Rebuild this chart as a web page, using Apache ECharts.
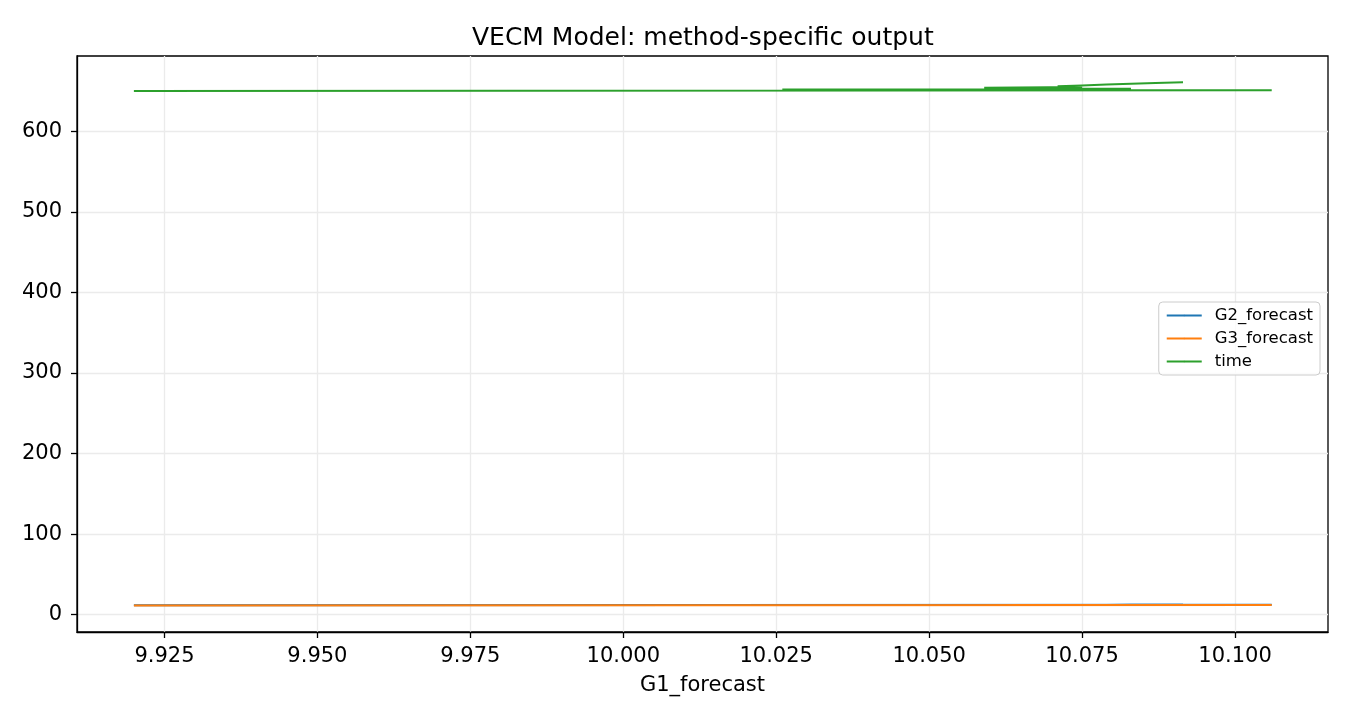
<!DOCTYPE html>
<html>
<head>
    <meta charset="utf-8">
    <title>VECM Model: method-specific output</title>
    <style>
        html, body { margin: 0; padding: 0; background: #fff; }
        #chart { width: 1350px; height: 720px; }
    </style>
</head>
<body>
    <div id="chart"></div>
    <script src="https://cdn.jsdelivr.net/npm/echarts@6/dist/echarts.min.js"></script>
    <script>
        // x values (G1_forecast), in plotting order
        var g1Forecast = [9.920, 10.106, 10.026, 10.083, 10.059, 10.075, 10.071, 10.075, 10.079, 10.083, 10.087, 10.0915];
        // y series
        var g2Forecast = [11.6, 12.2, 11.9, 12.1, 12.0, 12.1, 12.0, 12.1, 12.1, 12.2, 12.2, 12.3];
        var g3Forecast = [11.5, 12.0, 11.7, 11.9, 11.8, 11.9, 11.8, 11.9, 11.9, 11.9, 12.0, 12.0];
        var timeValues = [650, 651, 652, 653, 654, 655, 656, 657, 658, 659, 660, 661];
        // tick labels
        var xTicks = [9.925, 9.950, 9.975, 10.000, 10.025, 10.050, 10.075, 10.100];
        var yTicks = [0, 100, 200, 300, 400, 500, 600];

        var font = 'DejaVu Sans';
        var pairs = function (ys) {
            return g1Forecast.map(function (x, i) { return [x, ys[i]]; });
        };
        var mkSeries = function (name, ys, color) {
            return {
                name: name,
                type: 'line',
                data: pairs(ys),
                showSymbol: false,
                symbol: 'none',
                lineStyle: { color: color, width: 2 },
                itemStyle: { color: color }
            };
        };

        var chart = echarts.init(document.getElementById('chart'));
        chart.setOption({
            animation: false,
            backgroundColor: '#fff',
            // title centred over the plot area, not the page
            title: {
                text: 'VECM Model: method-specific output',
                left: 467,
                top: 21,
                textStyle: { fontFamily: font, fontSize: 25, fontWeight: 'normal', color: '#000' }
            },
            grid: {
                left: 77, right: 22, top: 56, bottom: 88,
                show: true, borderColor: '#000', borderWidth: 1.3
            },
            legend: {
                orient: 'vertical',
                right: 30,
                top: 302,
                padding: [5, 7, 5, 7],
                itemGap: 6,
                itemWidth: 35,
                itemHeight: 2,
                borderColor: '#cccccc',
                borderWidth: 1,
                borderRadius: 4,
                backgroundColor: 'rgba(255,255,255,0.8)',
                textStyle: { fontFamily: font, fontSize: 16.5, color: '#000', padding: [0, 0, 0, 8] },
                data: ['G2_forecast', 'G3_forecast', 'time']
            },
            xAxis: {
                type: 'value',
                min: 9.9107,
                max: 10.1152,
                name: 'G1_forecast',
                nameLocation: 'middle',
                nameGap: 43,
                nameTextStyle: { fontFamily: font, fontSize: 21, color: '#000' },
                axisLine: { show: true, onZero: false, lineStyle: { color: '#000', width: 1.3 } },
                axisTick: { show: true, customValues: xTicks, length: 6, lineStyle: { color: '#000', width: 1.3 } },
                axisLabel: {
                    customValues: xTicks,
                    fontFamily: font, fontSize: 21, color: '#000', margin: 14,
                    formatter: function (v) { return v.toFixed(3); }
                },
                splitLine: { show: true, lineStyle: { color: '#ebebeb', width: 1.3 } }
            },
            yAxis: {
                type: 'value',
                min: -21.5,
                max: 693.5,
                axisLine: { show: true, onZero: false, lineStyle: { color: '#000', width: 1.3 } },
                axisTick: { show: true, customValues: yTicks, length: 6, lineStyle: { color: '#000', width: 1.3 } },
                axisLabel: {
                    customValues: yTicks,
                    fontFamily: font, fontSize: 21, color: '#000', margin: 15
                },
                splitLine: { show: true, lineStyle: { color: '#ebebeb', width: 1.3 } }
            },
            series: [
                mkSeries('G2_forecast', g2Forecast, '#1f77b4'),
                mkSeries('G3_forecast', g3Forecast, '#ff7f0e'),
                mkSeries('time', timeValues, '#2ca02c')
            ]
        });
    </script>
</body>
</html>
